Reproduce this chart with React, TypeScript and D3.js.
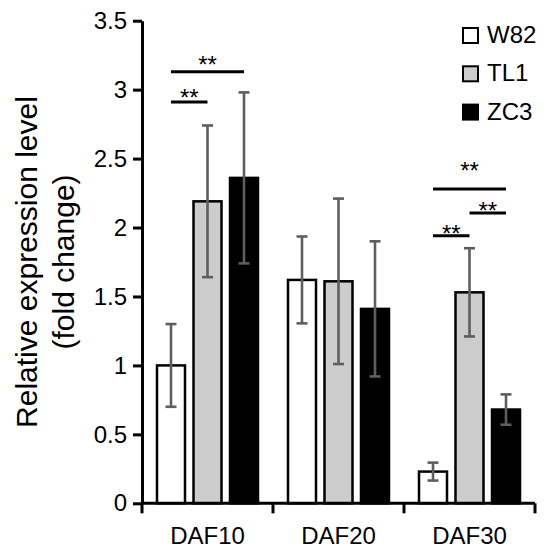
import { useEffect, useRef } from 'react';
import * as d3 from 'd3';

const CATEGORIES = ['DAF10', 'DAF20', 'DAF30'];
const SERIES = ['W82', 'TL1', 'ZC3'];
const SERIES_FILL = ['#ffffff', '#cccccc', '#000000'];

const W82_MEAN = [1.0, 1.62, 0.23];
const TL1_MEAN = [2.19, 1.61, 1.53];
const ZC3_MEAN = [2.36, 1.41, 0.68];
const W82_SD = [0.3, 0.315, 0.065];
const TL1_SD = [0.55, 0.6, 0.32];
const ZC3_SD = [0.62, 0.49, 0.11];

const Y_TICKS = [0, 0.5, 1, 1.5, 2, 2.5, 3, 3.5];

// significance brackets
const SIG_CATEGORY = ['DAF10', 'DAF10', 'DAF30', 'DAF30', 'DAF30'];
const SIG_FROM = ['W82', 'W82', 'W82', 'TL1', 'W82'];
const SIG_TO = ['TL1', 'ZC3', 'ZC3', 'ZC3', 'TL1'];
const SIG_LINE = [2.91, 3.13, 2.28, 2.105, 1.94];
const SIG_MARK = [2.98, 3.22, 2.455, 2.163, 1.996];
const SIG_LABEL = ['**', '**', '**', '**', '**'];

const FONT = '"Liberation Sans", Arial, Helvetica, sans-serif';

export default function App() {
  const ref = useRef<SVGSVGElement>(null);

  useEffect(() => {
    if (!ref.current) return;
    const svg = d3.select(ref.current);
    svg.selectAll('*').remove();

    const means = [W82_MEAN, TL1_MEAN, ZC3_MEAN];
    const sds = [W82_SD, TL1_SD, ZC3_SD];

    const x = d3.scaleBand<string>().domain(CATEGORIES).range([142, 535]);
    const inner = d3.scaleBand<string>().domain(SERIES).range([-54.75, 54.75]);
    const y = d3.scaleLinear().domain([0, 3.5]).range([503.3, 20.7]);
    const barW = 28;
    const cx = (c: string, s: string) => (x(c) ?? 0) + x.bandwidth() / 2 + (inner(s) ?? 0) + inner.bandwidth() / 2;

    const g = svg.append('g');

    // Bars
    SERIES.forEach((s, si) => {
      g.append('g')
        .selectAll('rect')
        .data(CATEGORIES)
        .join('rect')
        .attr('x', c => cx(c, s) - barW / 2)
        .attr('y', (_, ci) => y(means[si][ci]))
        .attr('width', barW)
        .attr('height', (_, ci) => y(0) - y(means[si][ci]))
        .attr('fill', SERIES_FILL[si])
        .attr('stroke', '#000')
        .attr('stroke-width', 2.5);
    });

    // Error bars
    SERIES.forEach((s, si) => {
      CATEGORIES.forEach((c, ci) => {
        const px = cx(c, s);
        const lo = y(means[si][ci] - sds[si][ci]);
        const hi = y(means[si][ci] + sds[si][ci]);
        const eb = g.append('g').attr('stroke', '#5e5e5e').attr('stroke-width', 2.6);
        eb.append('line').attr('x1', px).attr('x2', px).attr('y1', lo).attr('y2', hi);
        eb.append('line').attr('x1', px - 5.5).attr('x2', px + 5.5).attr('y1', lo).attr('y2', lo);
        eb.append('line').attr('x1', px - 5.5).attr('x2', px + 5.5).attr('y1', hi).attr('y2', hi);
      });
    });

    // Y axis
    const yAxis = g.append('g')
      .attr('transform', 'translate(142,0)')
      .call(d3.axisLeft(y).tickValues(Y_TICKS).tickFormat(d => String(d)).tickSize(9).tickSizeOuter(0).tickPadding(6));
    yAxis.selectAll('.domain,.tick line').attr('stroke', '#000').attr('stroke-width', 3);
    yAxis.selectAll('text').attr('font-size', 24).attr('font-family', FONT).attr('fill', '#000');

    // X axis
    const xAxis = g.append('g').attr('transform', `translate(0,${y(0)})`);
    xAxis.append('line').attr('x1', 141).attr('x2', 535).attr('stroke', '#000').attr('stroke-width', 3);
    const bounds = [...CATEGORIES.map(c => x(c) ?? 0), x.range()[1]];
    xAxis.selectAll('line.tk').data(bounds).join('line').attr('class', 'tk')
      .attr('x1', d => d).attr('x2', d => d).attr('y1', 0).attr('y2', 10)
      .attr('stroke', '#000').attr('stroke-width', 3);
    xAxis.selectAll('text').data(CATEGORIES).join('text')
      .attr('x', c => (x(c) ?? 0) + x.bandwidth() / 2).attr('y', 41)
      .attr('text-anchor', 'middle').attr('font-size', 24).attr('font-family', FONT).text(c => c);

    // Y label
    const yl = g.append('text').attr('transform', `translate(37,262) rotate(-90)`)
      .attr('text-anchor', 'middle').attr('font-size', 30).attr('font-family', FONT);
    yl.append('tspan').attr('x', 0).attr('y', 0).text('Relative expression level');
    yl.append('tspan').attr('x', 0).attr('y', 37).text('(fold change)');

    // Significance
    SIG_CATEGORY.forEach((c, i) => {
      const x1 = cx(c, SIG_FROM[i]);
      const x2 = cx(c, SIG_TO[i]);
      g.append('line').attr('x1', x1).attr('x2', x2)
        .attr('y1', y(SIG_LINE[i])).attr('y2', y(SIG_LINE[i]))
        .attr('stroke', '#000').attr('stroke-width', 3);
      g.append('text').attr('x', (x1 + x2) / 2).attr('y', y(SIG_MARK[i]) + 14)
        .attr('text-anchor', 'middle').attr('font-size', 24).attr('font-family', FONT)
        .text(SIG_LABEL[i]);
    });

    // Legend
    const legend = g.append('g').attr('transform', 'translate(463,28)');
    SERIES.forEach((s, i) => {
      legend.append('rect').attr('x', 0).attr('y', i * 38.3).attr('width', 15).attr('height', 15)
        .attr('fill', SERIES_FILL[i]).attr('stroke', '#000').attr('stroke-width', 2);
      legend.append('text').attr('x', 24).attr('y', i * 38.3 + 15)
        .attr('font-size', 24).attr('font-family', FONT).text(s);
    });
  }, []);

  return (
    <svg ref={ref} width={550} height={558}
      style={{ position: 'absolute', left: 0, top: 0, background: '#fff' }} />
  );
}
